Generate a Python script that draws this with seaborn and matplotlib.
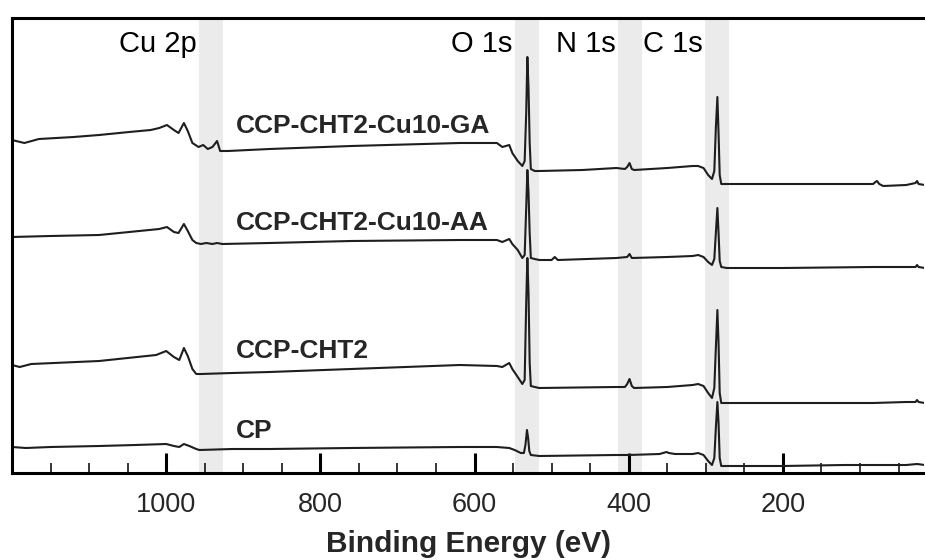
import matplotlib
matplotlib.use('Agg')
import matplotlib.pyplot as plt
from matplotlib.ticker import MultipleLocator
import seaborn as sns
import pandas as pd

# XPS survey spectra: binding energy (eV) / intensity (a.u., stacked)
ga_ev = [1200, 1184, 1165, 1120, 1087, 1048, 1020, 1009, 999, 990, 984, 977, 972, 966, 958, 952,
         946, 940, 934, 930, 920, 866, 760, 619, 571, 564, 555, 551, 544, 538, 535, 533, 531.5,
         530, 528.5, 527, 522, 516, 460, 416, 405, 402, 399, 396, 393, 350, 317, 310, 303, 297,
         292, 289, 287, 285, 283.5, 282, 280, 273, 200, 120, 83, 80, 78, 75, 70, 40, 28, 26, 24, 16]
ga_int = [333, 330, 334, 336, 338, 341, 343, 345, 348, 343, 340, 350, 342, 330, 326, 328,
          324, 326, 332, 322, 322, 324, 327, 330, 330, 326, 328, 320, 312, 307, 312, 360, 416,
          385, 330, 304, 302, 302, 303, 305, 304, 306, 310, 304, 303, 305, 307, 307, 305, 298,
          294, 302, 345, 376, 340, 298, 289, 289, 289, 289, 289, 291, 292, 289, 287, 288, 290, 292, 289, 288]

aa_ev = [1200, 1150, 1087, 1048, 1009, 999, 990, 984, 977, 972, 966, 961, 955, 948, 940, 934,
         927, 866, 760, 619, 571, 564, 555, 551, 544, 538, 535, 533, 531.5, 530, 528.5, 527,
         522, 516, 500, 496, 492, 416, 402, 399, 396, 350, 317, 310, 303, 297, 292, 289, 287,
         285, 283.5, 282, 280, 273, 200, 83, 40, 28, 26, 24, 16]
aa_int = [236, 237, 238, 241, 244, 246, 241, 240, 249, 242, 233, 230, 229, 230, 229, 230,
          229, 230, 232, 233, 233, 231, 234, 229, 223, 215, 218, 265, 303, 280, 240, 215,
          214, 213, 213, 216, 213, 215, 216, 219, 215, 216, 217, 218, 216, 211, 208, 214, 240,
          265, 240, 212, 206, 205, 205, 206, 206, 206, 208, 206, 205]

cht2_ev = [1200, 1190, 1175, 1087, 1050, 1013, 1000, 990, 983, 977, 972, 966, 961, 955, 914,
           866, 760, 619, 571, 564, 555, 551, 544, 538, 535, 533, 531.5, 530, 528.5, 527, 522,
           516, 416, 405, 402, 399, 396, 393, 350, 317, 310, 303, 297, 292, 289, 287, 285,
           283.5, 282, 280, 273, 200, 83, 40, 28, 26, 24, 16]
cht2_int = [108, 106, 109, 112, 115, 118, 122, 116, 113, 125, 117, 104, 99, 99, 100,
            101, 104, 108, 107, 106, 110, 104, 96, 89, 93, 170, 215, 180, 110, 87, 86,
            85, 86, 86, 89, 94, 87, 85, 86, 88, 89, 87, 80, 75, 85, 125, 163,
            130, 80, 70, 70, 70, 70, 71, 71, 73, 71, 70]

cp_ev = [1200, 1182, 1150, 1087, 1040, 1000, 990, 983, 977, 970, 961, 957, 914, 866, 760, 619,
         571, 555, 548, 540, 536, 534, 532, 530.5, 529, 527, 516, 416, 400, 360, 351, 348, 340,
         317, 310, 303, 297, 292, 289, 287, 285, 283.5, 282, 280, 273, 200, 120, 40, 26, 16]
cp_int = [26, 25, 26, 27, 28, 29, 27, 26, 29, 27, 24, 23, 24, 24, 25, 26,
          26, 25, 23, 20, 20, 28, 43, 35, 22, 18, 17, 18, 18, 19, 21, 20, 19,
          19, 20, 18, 12, 8, 15, 45, 71, 50, 15, 7, 7, 7, 8, 8, 9, 8]

samples = ['CCP-CHT2-Cu10-GA', 'CCP-CHT2-Cu10-AA', 'CCP-CHT2', 'CP']
energies = [ga_ev, aa_ev, cht2_ev, cp_ev]
intensities = [ga_int, aa_int, cht2_int, cp_int]

# shaded core-level windows (eV)
band_names = ['Cu 2p', 'O 1s', 'N 1s', 'C 1s']
band_hi = [957, 548, 414, 301]
band_lo = [926, 516, 383, 270]

frames = []
for name, ev, it in zip(samples, energies, intensities):
    frames.append(pd.DataFrame({'energy': ev, 'intensity': it, 'sample': name}))
df = pd.concat(frames, ignore_index=True)

sns.set_theme(style='white')
plt.rcParams['font.family'] = ['Liberation Sans', 'DejaVu Sans']

fig = plt.figure(figsize=(9.25, 5.6), dpi=100)
ax = fig.add_axes([12 / 925, 87 / 560, 912 / 925, 455 / 560])

for name, hi, lo in zip(band_names, band_hi, band_lo):
    ax.axvspan(lo, hi, color='#ebebeb', lw=0, zorder=0)
    ax.text(hi + 3, 421, name, ha='right', va='baseline', fontsize=21, color='black')

sns.lineplot(data=df, x='energy', y='intensity', hue='sample', estimator=None, sort=False,
             palette={s: '#1e1e1e' for s in samples}, linewidth=1.5, legend=False, ax=ax)

for name, y in zip(samples, [340, 243, 115, 35]):
    ax.text(909, y, name, ha='left', va='baseline', fontsize=19, fontweight='bold')

ax.set_xlim(1200, 17)
ax.set_ylim(0, 455)
ax.set_xticks([1000, 800, 600, 400, 200])
ax.xaxis.set_minor_locator(MultipleLocator(50))
ax.set_yticks([])
ax.tick_params(axis='x', which='major', direction='in', length=14.5, width=2.2,
               labelsize=19.5, pad=14, bottom=True, top=False, color='black')
ax.tick_params(axis='x', which='minor', direction='in', length=7, width=1.1,
               bottom=True, top=False, color='black')
ax.set_xlabel('Binding Energy (eV)', fontsize=21.5, fontweight='bold', labelpad=8)
ax.set_ylabel('')

for side in ['left', 'bottom', 'top']:
    ax.spines[side].set_linewidth(2.2)
    ax.spines[side].set_color('black')
ax.spines['right'].set_visible(False)

fig.savefig('out.png', dpi=100)
